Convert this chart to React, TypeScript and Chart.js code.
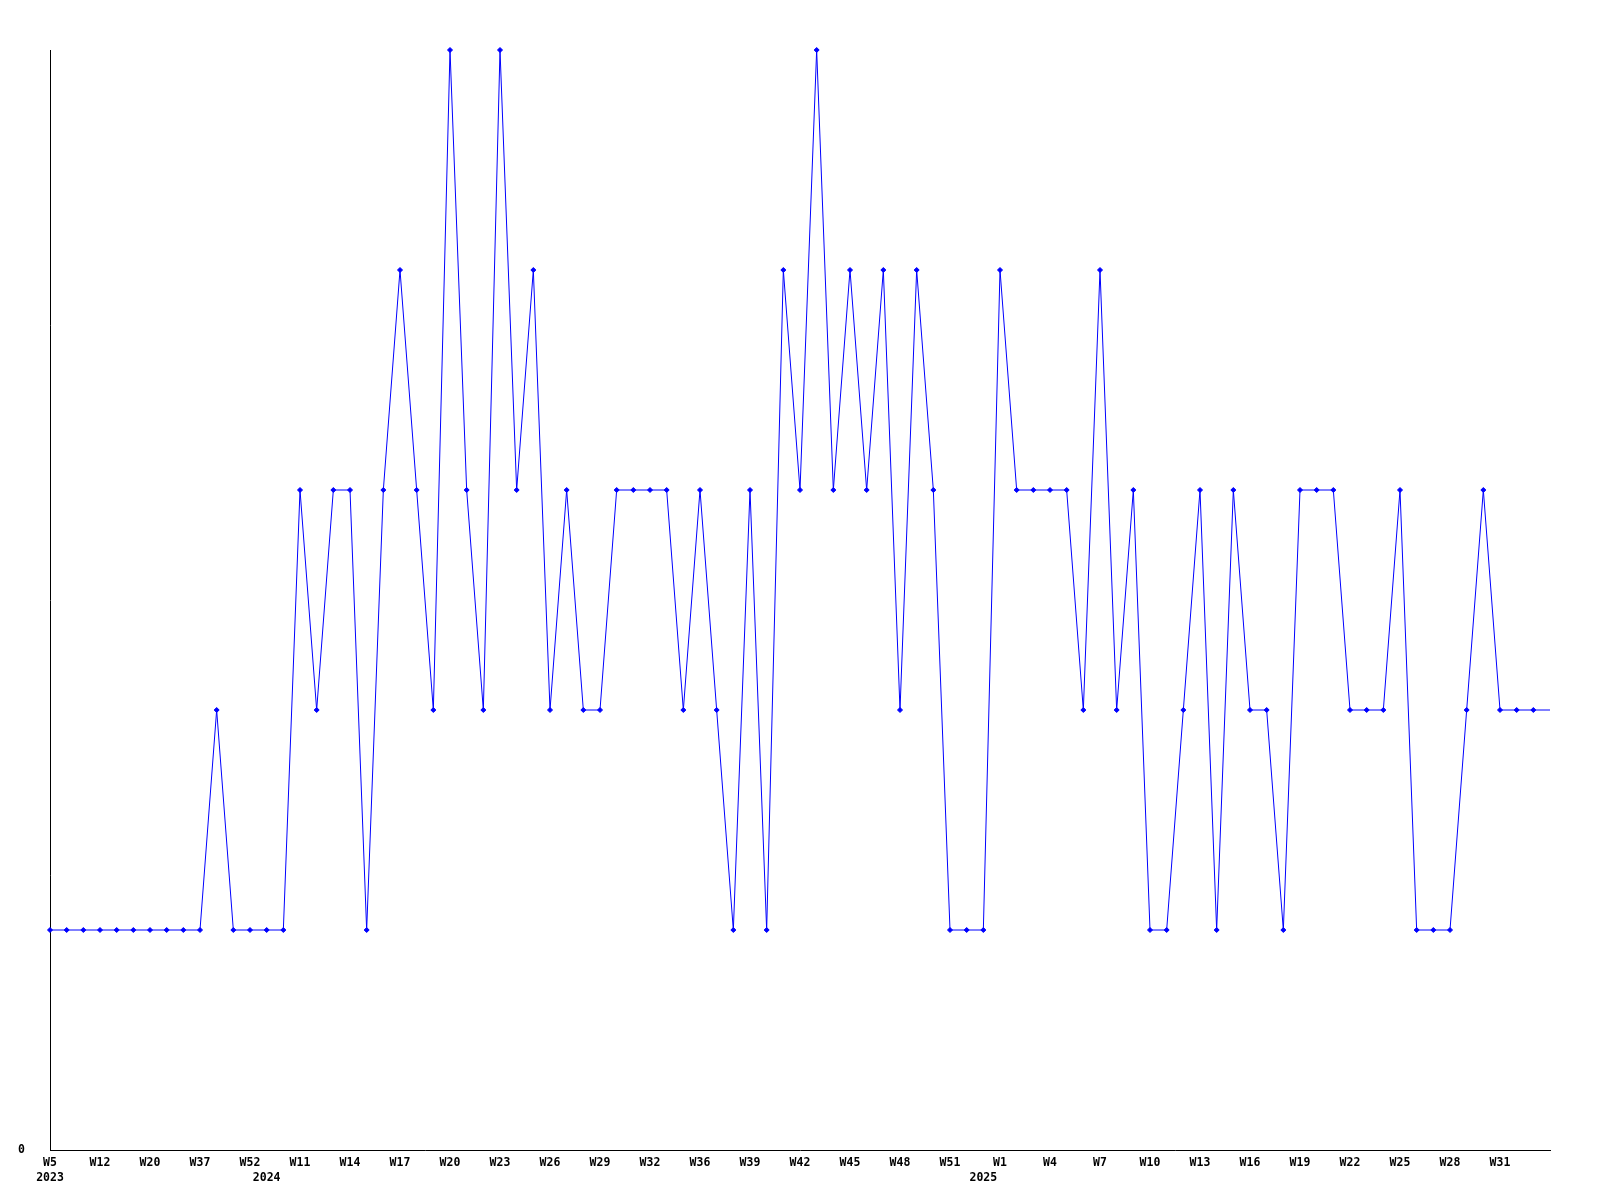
import React, { useEffect, useRef } from "react";
import { Chart, registerables } from "chart.js";

Chart.register(...registerables);

// Week categories (one per point)
const weeks2023 = ["W5", "W8", "W10", "W12", "W15", "W18", "W20", "W26", "W31", "W37", "W41", "W46", "W52"];
const weeks2024 = [
  "W9", "W10", "W11", "W12", "W13", "W14", "W15", "W16", "W17", "W18", "W19", "W20",
  "W21", "W22", "W23", "W24", "W25", "W26", "W27", "W28", "W29", "W30", "W31", "W32",
  "W33", "W35", "W36", "W37", "W38", "W39", "W40", "W41", "W42", "W43", "W44", "W45",
  "W46", "W47", "W48", "W49", "W50", "W51", "W52",
];
const weeks2025 = [
  "W0", "W1", "W2", "W3", "W4", "W5", "W6", "W7", "W8", "W9", "W10", "W11", "W12",
  "W13", "W14", "W15", "W16", "W17", "W18", "W19", "W20", "W21", "W22", "W23", "W24",
  "W25", "W26", "W27", "W28", "W29", "W30", "W31", "W32", "W33", "W34",
];
const categories = [...weeks2023, ...weeks2024, ...weeks2025];

// Year labels and the point index where each year begins
const yearNames = ["2023", "2024", "2025"];
const yearStarts = [0, weeks2023.length, weeks2023.length + weeks2024.length];

// Series values
const values = [
  1, 1, 1, 1, 1, 1, 1, 1, 1, 1,
  2, 1, 1, 1, 1, 3, 2, 3, 3, 1,
  3, 4, 3, 2, 5, 3, 2, 5, 3, 4,
  2, 3, 2, 2, 3, 3, 3, 3, 2, 3,
  2, 1, 3, 1, 4, 3, 5, 3, 4, 3,
  4, 2, 4, 3, 1, 1, 1, 4, 3, 3,
  3, 3, 2, 4, 2, 3, 1, 1, 2, 3,
  1, 3, 2, 2, 1, 3, 3, 3, 2, 2,
  2, 3, 1, 1, 1, 2, 3, 2, 2, 2,
  2,
];

const TICK_EVERY = 3;

export default function App() {
  const ref = useRef<HTMLCanvasElement | null>(null);

  useEffect(() => {
    if (!ref.current) return;
    const font = {
      family: '"DejaVu Sans Mono", "Liberation Mono", monospace',
      size: 11.5,
      weight: "bold" as const,
      lineHeight: 1.35,
    };
    const last = values.length - 1;
    const chart = new Chart(ref.current, {
      type: "line",
      data: {
        labels: categories,
        datasets: [
          {
            data: values,
            borderColor: "#0000ff",
            backgroundColor: "#0000ff",
            borderWidth: 1,
            tension: 0,
            pointStyle: "rectRot",
            pointRadius: (ctx: any) => (ctx.dataIndex === last ? 0 : 2.5),
            pointBorderWidth: 1,
            pointBorderColor: "#0000ff",
            pointBackgroundColor: "#0000ff",
            clip: false as any,
          },
        ],
      },
      options: {
        animation: false,
        responsive: false,
        maintainAspectRatio: false,
        layout: { padding: { top: 50, right: 50, left: 0, bottom: 0 } },
        plugins: {
          legend: { display: false },
          tooltip: { enabled: false },
        },
        scales: {
          x: {
            type: "category",
            offset: false,
            grid: { display: false, drawTicks: false },
            border: { display: true, color: "#000000", width: 1 },
            ticks: {
              autoSkip: false,
              maxRotation: 0,
              minRotation: 0,
              padding: 5,
              color: "#000000",
              font,
              callback: (_v: any, index: number) => {
                const yi = yearStarts.indexOf(index);
                const isTick = index % TICK_EVERY === 0 && index < last;
                if (isTick && yi >= 0) return [categories[index], yearNames[yi]];
                if (isTick) return categories[index];
                if (yi >= 0) return ["", yearNames[yi]];
                return null as any;
              },
            },
            afterFit: (s: any) => {
              s.height = 50;
            },
          },
          y: {
            min: 0,
            max: 5,
            grid: { display: false, drawTicks: false },
            border: { display: true, color: "#000000", width: 1 },
            ticks: {
              stepSize: 1,
              padding: 25,
              color: "#000000",
              font,
              callback: (v: any) => (v === 0 ? "0" : (null as any)),
            },
            afterFit: (s: any) => {
              s.width = 50;
            },
          },
        },
      },
    });
    return () => chart.destroy();
  }, []);

  return (
    <div style={{ position: "fixed", left: 0, top: 0, width: 1600, height: 1200, background: "#ffffff" }}>
      <canvas ref={ref} width={1600} height={1200} style={{ width: 1600, height: 1200, display: "block" }} />
    </div>
  );
}
